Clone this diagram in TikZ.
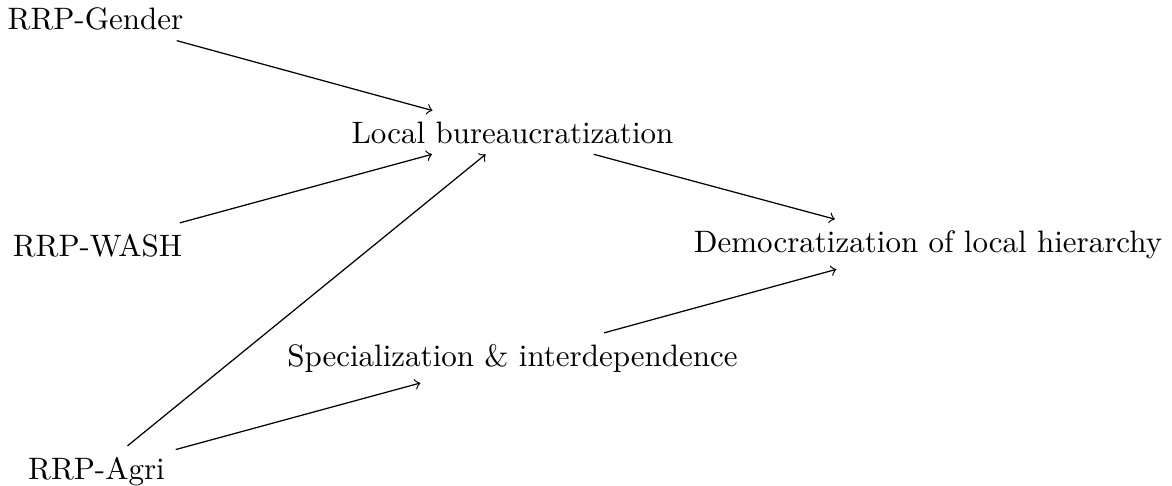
\documentclass[tikz,border=0pt]{standalone}
\begin{document}
\begin{tikzpicture}[x=0.3226pt,y=-0.3226pt,
  lbl/.style={anchor=base},
  link/.style={->}]
\useasboundingbox (0,0) rectangle (1172,485);
\node[lbl] (gender) at (95.5,29) {RRP-Gender};
\node[lbl] (wash) at (97.5,256) {RRP-WASH};
\node[lbl] (agri) at (96.5,479) {RRP-Agri};
\node[lbl] (local) at (512.5,143) {Local bureaucratization};
\node[lbl] (spec) at (512.5,366) {Specialization \& interdependence};
\node[lbl] (democ) at (928,252) {Democratization of local hierarchy};
\draw[link] (gender) -- (local);
\draw[link] (wash) -- (local);
\draw[link] (agri) -- (local);
\draw[link] (agri) -- (spec);
\draw[link] (local) -- (democ);
\draw[link] (spec) -- (democ);
\end{tikzpicture}
\end{document}
